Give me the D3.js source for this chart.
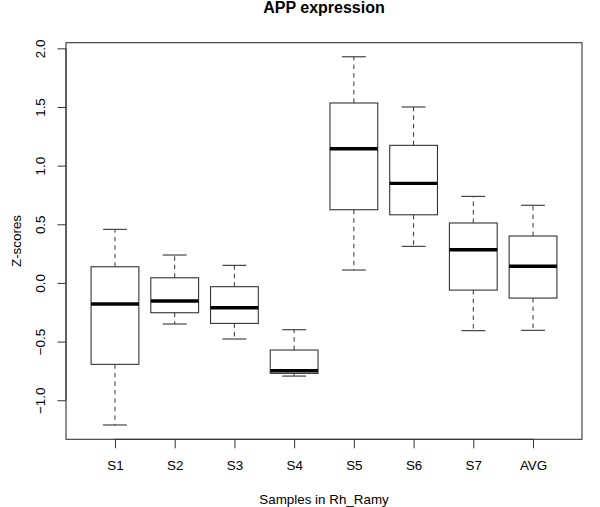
<!DOCTYPE html>
<html><head><meta charset="utf-8">
<script src="https://cdn.jsdelivr.net/npm/d3@7"></script>
<style>body{margin:0;background:#fff}svg{display:block}text{font-family:"Liberation Sans",Arial,sans-serif}</style>
</head><body><svg id="c" width="600" height="507"></svg>
<script>
const categories = ["S1","S2","S3","S4","S5","S6","S7","AVG"];
const lowerWhisker = [-1.211,-0.350,-0.478,-0.794,0.110,0.312,-0.407,-0.404];
const q1 =           [-0.694,-0.254,-0.345,-0.771,0.624,0.581,-0.061,-0.129];
const median =       [-0.180,-0.154,-0.211,-0.748,1.144,0.849,0.283,0.142];
const q3 =           [0.138,0.044,-0.032,-0.572,1.534,1.173,0.511,0.400];
const upperWhisker = [0.457,0.238,0.150,-0.399,1.928,1.500,0.738,0.662];
const yTicks = [-1.0,-0.5,0.0,0.5,1.0,1.5,2.0];
const title = "APP expression", xTitle = "Samples in Rh_Ramy", yTitle = "Z-scores";

const L = 66, R = 582, T = 42.7, B = 439.3;
const svg = d3.select("#c");
const x = d3.scaleLinear().domain([0.18, 8.82]).range([L, R]);
const y = d3.scaleLinear().domain([-1.333, 2.048]).range([B, T]);
const data = categories.map((c,i)=>({c,i:i+1,lo:lowerWhisker[i],q1:q1[i],med:median[i],q3:q3[i],hi:upperWhisker[i]}));
const unit = x(1)-x(0);
const bw = unit*0.8, cw = bw*0.5;
const col = "#333";

const g = svg.append("g");
data.forEach(d=>{
  const cx = x(d.i);
  // whiskers
  g.append("line").attr("x1",cx).attr("x2",cx).attr("y1",y(d.q3)).attr("y2",y(d.hi))
    .attr("stroke",col).attr("stroke-width",1).attr("stroke-dasharray","4.5,4");
  g.append("line").attr("x1",cx).attr("x2",cx).attr("y1",y(d.q1)).attr("y2",y(d.lo))
    .attr("stroke",col).attr("stroke-width",1).attr("stroke-dasharray","4.5,4");
  // caps
  [d.hi,d.lo].forEach(v=>g.append("line").attr("x1",cx-cw/2).attr("x2",cx+cw/2).attr("y1",y(v)).attr("y2",y(v))
    .attr("stroke",col).attr("stroke-width",1.1));
  // box
  g.append("rect").attr("x",cx-bw/2).attr("width",bw).attr("y",y(d.q3)).attr("height",y(d.q1)-y(d.q3))
    .attr("fill","white").attr("stroke",col).attr("stroke-width",1.1);
  g.append("line").attr("x1",cx-bw/2).attr("x2",cx+bw/2).attr("y1",y(d.med)).attr("y2",y(d.med))
    .attr("stroke","#000").attr("stroke-width",3.4);
});

// frame
svg.append("rect").attr("x",L).attr("y",T).attr("width",R-L).attr("height",B-T)
  .attr("fill","none").attr("stroke",col).attr("stroke-width",1.1);

// axes
const xa = svg.append("g").attr("transform",`translate(0,${B})`)
  .call(d3.axisBottom(x).tickValues(d3.range(1,9)).tickFormat(i=>categories[i-1]).tickSize(9).tickPadding(12));
xa.select(".domain").attr("d",`M${x(1)},0H${x(8)}`).attr("stroke",col);
xa.selectAll(".tick line").attr("stroke",col);
xa.selectAll("text").attr("font-size","13.4px").attr("fill","#000").attr("font-family","Liberation Sans, Arial, sans-serif");

const ya = svg.append("g").attr("transform",`translate(${L},0)`)
  .call(d3.axisLeft(y).tickValues(yTicks).tickFormat(d3.format(".1f")).tickSize(8.5).tickPadding(0));
ya.select(".domain").attr("d",`M0,${y(-1)}V${y(2)}`).attr("stroke",col);
ya.selectAll(".tick line").attr("stroke",col);
ya.selectAll(".tick text").attr("x",null).attr("dy",null)
  .attr("transform","translate(-21,0) rotate(-90)").attr("text-anchor","middle")
  .attr("font-size","13.4px").attr("fill","#000").attr("font-family","Liberation Sans, Arial, sans-serif");

svg.append("text").attr("x",(L+R)/2).attr("y",13).attr("text-anchor","middle")
  .attr("font-weight","bold").attr("font-size","16px").text(title);
svg.append("text").attr("x",(L+R)/2).attr("y",503.5).attr("text-anchor","middle")
  .attr("font-size","13.4px").text(xTitle);
svg.append("text").attr("transform",`translate(20.5,${(T+B)/2}) rotate(-90)`).attr("text-anchor","middle")
  .attr("font-size","13.4px").text(yTitle);
</script></body></html>
